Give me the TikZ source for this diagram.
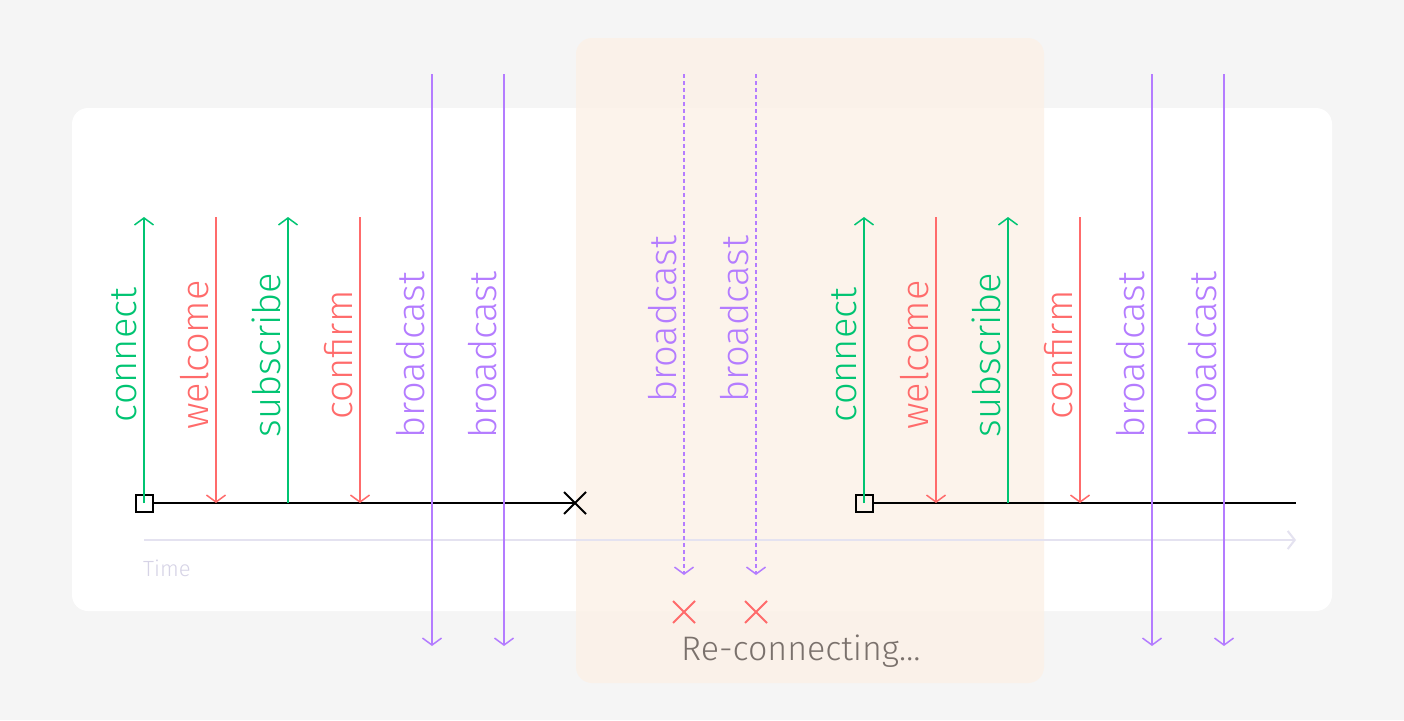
\documentclass[tikz,border=0pt]{standalone}
\usepackage{fontspec}
\setmainfont{Fira Sans Light}
\usetikzlibrary{arrows.meta,shapes.misc}
\definecolor{pagebg}{HTML}{F5F5F5}
\definecolor{pausefill}{HTML}{FCF1E6}
\definecolor{cgreen}{HTML}{00C472}
\definecolor{cred}{HTML}{FF6B6B}
\definecolor{cpurple}{HTML}{B47CFF}
\definecolor{axisgray}{HTML}{E4E2F0}
\definecolor{timegray}{HTML}{D6D3E6}
\definecolor{notegray}{HTML}{7A716C}
\begin{document}
\begin{tikzpicture}[x=1pt, y=-1pt,
  tip/.style={-{Straight Barb[length=7pt,width=19pt,line width=1.5pt]}},
  up/.style={cgreen, line width=1.5pt, tip},
  down/.style={cred, line width=1.5pt, tip},
  bcast/.style={cpurple, line width=1.5pt, tip},
  lost/.style={cpurple, line width=1.5pt, dash pattern=on 4pt off 3pt, tip},
  lbl/.style={rotate=90, anchor=base, inner sep=0pt, font=\fontsize{38}{44}\selectfont},
  startbox/.style={draw=black, line width=2pt, minimum size=17pt, inner sep=0pt},
  cross/.style={cross out, draw, line width=2pt, minimum size=20pt, inner sep=0pt}
]
\useasboundingbox[fill=pagebg] (0,0) rectangle (1404,720);

% panels
\fill[white, rounded corners=16pt] (72,108) rectangle (1332,611);
\fill[pausefill, fill opacity=0.8, rounded corners=16pt] (576,38) rectangle (1044,683);

% time axis
\coordinate (t0) at (144,540);
\coordinate (t1) at (1296,540);
\draw[axisgray, line width=2pt, -{Straight Barb[length=7pt,width=18pt,line width=2pt]}] (t0) -- (t1);
\node[timegray, anchor=base west, inner sep=0pt, font=\fontsize{22}{26}\selectfont] (time) at (143,576) {Time};

% timelines
\node[startbox] (s1) at (144,503) {};
\node[cross, black] (end1) at (575,503) {};
\draw[line width=2pt] (s1.east) -- (end1.center);
\node[startbox] (s2) at (864,503) {};
\coordinate (end2) at (1296,503);
\draw[line width=2pt] (s2.east) -- (end2);

% messages, one group per session
\foreach \g/\dx in {1/0, 2/720} {
  \coordinate (conn\g) at (144+\dx,217);
  \coordinate (welc\g) at (216+\dx,217);
  \coordinate (welcx\g) at (216+\dx,503);
  \coordinate (subs\g) at (288+\dx,217);
  \coordinate (subsx\g) at (288+\dx,503);
  \coordinate (conf\g) at (360+\dx,217);
  \coordinate (confx\g) at (360+\dx,503);
  \coordinate (bca\g) at (432+\dx,74);
  \coordinate (bcax\g) at (432+\dx,646);
  \coordinate (bcb\g) at (504+\dx,74);
  \coordinate (bcbx\g) at (504+\dx,646);

  \draw[up] (s\g.center) -- (conn\g);
  \draw[down] (welc\g) -- (welcx\g);
  \draw[up] (subsx\g) -- (subs\g);
  \draw[down] (conf\g) -- (confx\g);
  \draw[bcast] (bca\g) -- (bcax\g);
  \draw[bcast] (bcb\g) -- (bcbx\g);

  \node[lbl, cgreen] (lconn\g) at (136+\dx,355) {connect};
  \node[lbl, cred] (lwelc\g) at (208+\dx,355) {welcome};
  \node[lbl, cgreen] (lsubs\g) at (280+\dx,355) {subscribe};
  \node[lbl, cred] (lconf\g) at (352+\dx,355) {confirm};
  \node[lbl, cpurple] (lbca\g) at (424+\dx,355) {broadcast};
  \node[lbl, cpurple] (lbcb\g) at (496+\dx,355) {broadcast};
}

% broadcasts sent while offline
\coordinate (lost1) at (684,74);
\node[cross, cred] (drop1) at (684,612) {};
\coordinate (lost2) at (756,74);
\node[cross, cred] (drop2) at (756,612) {};
\draw[lost] (lost1) -- (684,575);
\draw[lost] (lost2) -- (756,575);
\node[lbl, cpurple] (llost1) at (676,319) {broadcast};
\node[lbl, cpurple] (llost2) at (748,319) {broadcast};

\node[notegray, anchor=base west, inner sep=0pt, font=\fontsize{34}{40}\selectfont] (note) at (681,660) {Re-connecting\dots};
\end{tikzpicture}
\end{document}
